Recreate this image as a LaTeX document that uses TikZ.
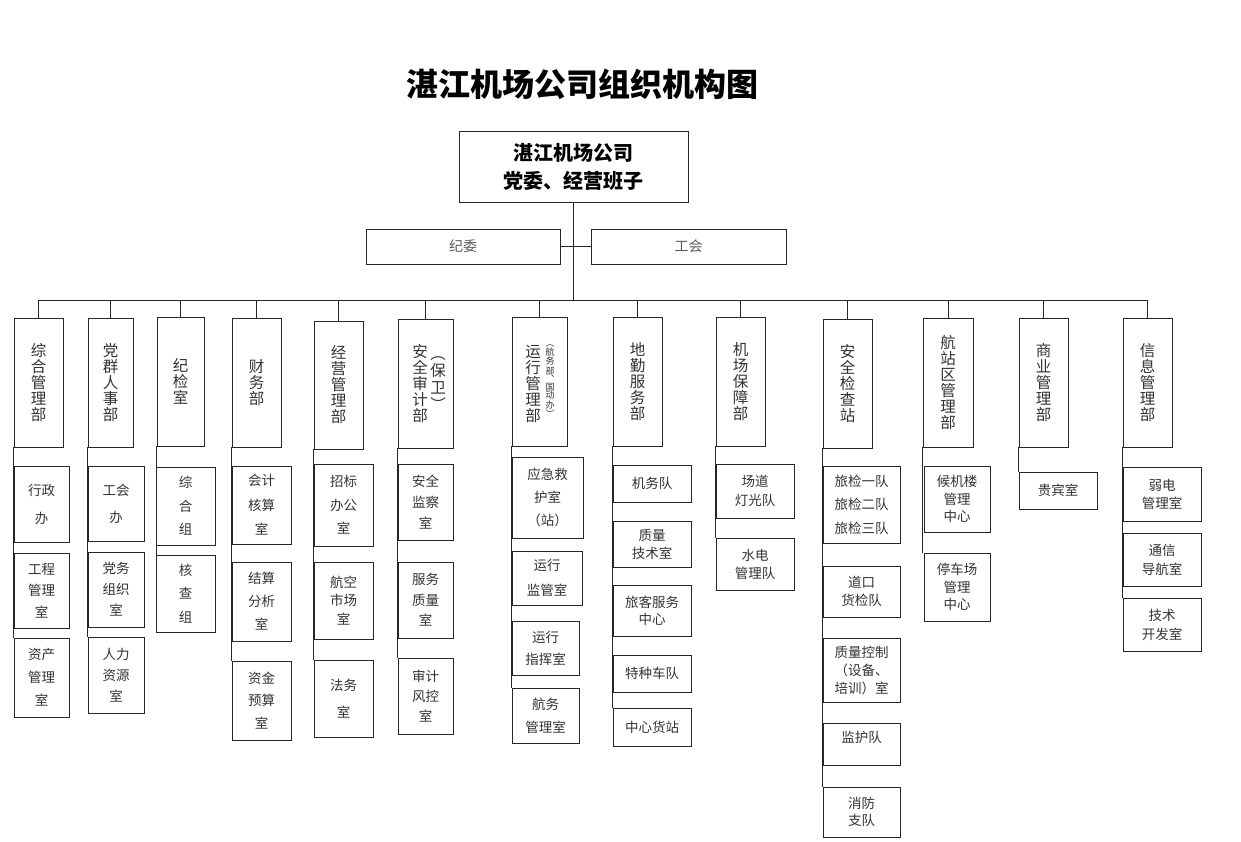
\documentclass[tikz,border=0pt]{standalone}
\usepackage{fontspec}
\setmainfont{Noto Sans CJK SC}
\newcommand\sbx[7]{\node[subbox, minimum width={#4-#2}, minimum height={#5-#3}, font=\fontsize{13.5}{#6}\selectfont] (#1) at ({(#2+#4)/2},{(#3+#5)/2}) {#7};}
\newcommand\dbx[6]{\node[deptbox, minimum width={#4-#2}, minimum height={#5-#3}] (#1) at ({(#2+#4)/2},{(#3+#5)/2}) {#6};}
\begin{document}
\begin{tikzpicture}[x=1pt,y=-1pt,
  line/.style={draw=black!85, line width=0.95pt},
  subbox/.style={draw=black!85, line width=0.95pt, inner sep=0pt, align=center, text=black!80},
  deptbox/.style={draw=black!85, line width=0.95pt, inner sep=0pt, align=center, text=black!80, font=\fontsize{15.5}{16}\selectfont},
  widebox/.style={draw=black!85, line width=0.95pt, inner sep=0pt, align=center, text=black!65, font=\fontsize{14}{16}\selectfont},
  topbox/.style={draw=black!85, line width=0.95pt, inner sep=0pt, align=center, font=\bfseries\fontsize{20}{28}\selectfont}
]
\useasboundingbox[fill=white] (0,0) rectangle (1241,841);
\node[font=\bfseries\fontsize{32}{36}\selectfont] (title) at (582,84) {湛江机场公司组织机构图};
\node[topbox, minimum width=229, minimum height=71] (top) at (573.5,166.5) {湛江机场公司\\党委、经营班子};
\node[widebox, minimum width=194, minimum height=35] (jiwei) at (463,246.5) {纪委};
\node[widebox, minimum width=195, minimum height=35] (gonghui) at (688.5,246.5) {工会};
\coordinate (bar) at (0,300);
% departments
\dbx{d1}{14}{318}{63}{447}{综\\合\\管\\理\\部}
\dbx{d2}{88}{318}{133}{447}{党\\群\\人\\事\\部}
\dbx{d3}{157}{317}{204}{446}{纪\\检\\室}
\dbx{d4}{232}{318}{281}{447}{财\\务\\部}
\dbx{d5}{314}{321}{363}{449}{经\\营\\管\\理\\部}
\dbx{d6}{398}{319}{453}{448}{}
\dbx{d7}{512}{317}{567}{446}{}
\dbx{d8}{613}{317}{662}{446}{地\\勤\\服\\务\\部}
\dbx{d9}{716}{317}{765}{446}{机\\场\\保\\障\\部}
\dbx{d10}{823}{319}{872}{448}{安\\全\\检\\查\\站}
\dbx{d11}{923}{318}{973}{447}{航\\站\\区\\管\\理\\部}
\dbx{d12}{1019}{318}{1068}{447}{商\\业\\管\\理\\部}
\dbx{d13}{1123}{318}{1172}{447}{信\\息\\管\\理\\部}
\node[align=center, inner sep=0pt, text=black!80, font=\fontsize{15.5}{16}\selectfont] (d6a) at (420,384) {安\\全\\审\\计\\部};
\node[align=center, inner sep=0pt, text=black!80, font=\fontsize{15.5}{17}\selectfont] (d6b) at (438,384) {︵\\保\\卫\\︶};
\node[align=center, inner sep=0pt, text=black!80, font=\fontsize{15.5}{16}\selectfont] (d7a) at (533,384) {运\\行\\管\\理\\部};
\node[align=center, inner sep=0pt, text=black!80, font=\fontsize{9}{8.2}\selectfont] (d7b) at (550,381) {︵\\航\\务\\部\\︑\\国\\动\\办\\︶};
% sub boxes col1
\sbx{s11}{14}{466}{69}{542}{28}{行政\\办}
\sbx{s12}{14}{553}{69}{628}{21.5}{工程\\管理\\室}
\sbx{s13}{14}{638}{69}{717}{23}{资产\\管理\\室}
% col2
\sbx{s21}{88}{466}{144}{541}{27}{工会\\办}
\sbx{s22}{88}{552}{144}{627}{21}{党务\\组织\\室}
\sbx{s23}{88}{637}{144}{713}{21}{人力\\资源\\室}
% col3
\sbx{s31}{156}{467}{215}{545}{23.5}{综\\合\\组}
\sbx{s32}{156}{555}{215}{632}{23.5}{核\\查\\组}
% col4
\sbx{s41}{232}{466}{291}{544}{24.5}{会计\\核算\\室}
\sbx{s42}{232}{562}{291}{641}{23}{结算\\分析\\室}
\sbx{s43}{232}{661}{291}{740}{22.5}{资金\\预算\\室}
% col5
\sbx{s51}{314}{464}{373}{546}{23.5}{招标\\办公\\室}
\sbx{s52}{314}{562}{373}{639}{18.5}{航空\\市场\\室}
\sbx{s53}{314}{660}{373}{737}{27}{法务\\室}
% col6
\sbx{s61}{398}{464}{453}{540}{21}{安全\\监察\\室}
\sbx{s62}{398}{562}{453}{638}{20.5}{服务\\质量\\室}
\sbx{s63}{398}{658}{453}{734}{20}{审计\\风控\\室}
% col7
\sbx{s71}{512}{457}{583}{538}{23}{应急救\\护室\\（站）}
\sbx{s72}{512}{551}{582}{605}{25}{运行\\监管室}
\sbx{s73}{512}{621}{579}{675}{22}{运行\\指挥室}
\sbx{s74}{512}{688}{579}{743}{23}{航务\\管理室}
% col8
\sbx{s81}{613}{465}{691}{502}{16}{机务队}
\sbx{s82}{613}{521}{691}{567}{18}{质量\\技术室}
\sbx{s83}{613}{585}{691}{636}{17}{旅客服务\\中心}
\sbx{s84}{613}{655}{691}{692}{16}{特种车队}
\sbx{s85}{613}{708}{691}{746}{16}{中心货站}
% col9
\sbx{s91}{716}{464}{794}{518}{19}{场道\\灯光队}
\sbx{s92}{716}{538}{794}{590}{18}{水电\\管理队}
% col10
\sbx{s101}{823}{466}{900}{543}{23.5}{旅检一队\\旅检二队\\旅检三队}
\sbx{s102}{823}{566}{900}{617}{18}{道口\\货检队}
\sbx{s103}{823}{638}{900}{702}{18}{质量控制\\（设备、\\培训）室}
\sbx{s104}{823}{723}{900}{765}{14}{监护队\\\mbox{}}
\sbx{s105}{823}{787}{900}{837}{17}{消防\\支队}
% col11
\sbx{s111}{924}{466}{990}{532}{17.5}{候机楼\\管理\\中心}
\sbx{s112}{924}{553}{990}{621}{17.5}{停车场\\管理\\中心}
% col12
\sbx{s121}{1019}{472}{1097}{509}{16}{贵宾室}
% col13
\sbx{s131}{1123}{467}{1201}{521}{18}{弱电\\管理室}
\sbx{s132}{1123}{533}{1201}{586}{19}{通信\\导航室}
\sbx{s133}{1123}{598}{1201}{651}{19}{技术\\开发室}
% connectors
\draw[line] (top.south) -- (top.south |- bar);
\draw[line] (jiwei.east) -- (gonghui.west);
\draw[line] (d1.north |- bar) -- (d13.north |- bar);
\foreach \d in {d1,d2,d3,d4,d5,d6,d7,d8,d9,d10,d11,d12,d13}
  \draw[line] (\d.north) -- (\d.north |- bar);
\draw[line] (d1.south west) -- (d1.south west |- s13.north);
\draw[line] (d2.south west) -- (d2.south west |- s23.north);
\draw[line] (d3.south west) -- (d3.south west |- s32.north);
\draw[line] (d4.south west) -- (d4.south west |- s43.north);
\draw[line] (d5.south west) -- (d5.south west |- s53.north);
\draw[line] (d6.south west) -- (d6.south west |- s63.north);
\draw[line] (d7.south west) -- (d7.south west |- s74.north);
\draw[line] (d8.south west) -- (d8.south west |- s85.north);
\draw[line] (d9.south west) -- (d9.south west |- s92.north);
\draw[line] (d10.south west) -- (d10.south west |- s105.north);
\draw[line] (d11.south west) -- (d11.south west |- s112.north);
\draw[line] (d12.south west) -- (d12.south west |- s121.north);
\draw[line] (d13.south west) -- (d13.south west |- s133.north);
\end{tikzpicture}
\end{document}
